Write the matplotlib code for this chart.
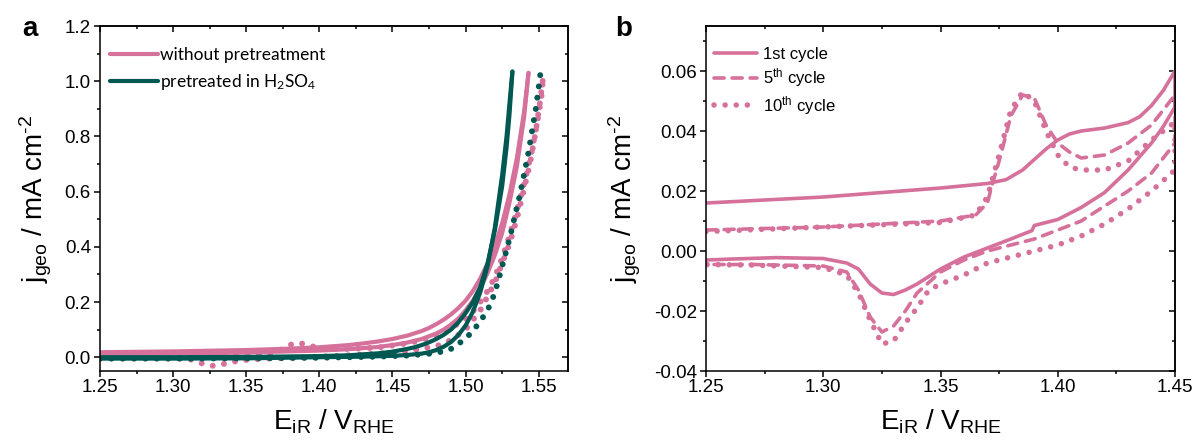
import matplotlib
matplotlib.use("Agg")
import matplotlib.pyplot as plt
from matplotlib.ticker import MultipleLocator, FormatStrFormatter

plt.rcParams['font.family'] = ['Liberation Sans', 'DejaVu Sans']
plt.rcParams['mathtext.fontset'] = 'custom'
plt.rcParams['mathtext.rm'] = 'Liberation Sans'
plt.rcParams['mathtext.it'] = 'Liberation Sans'
plt.rcParams['axes.unicode_minus'] = False

pink = '#D5719B'
teal = '#005852'

# ---- panel a : LSV, without / with pretreatment ----
a_pink_fw_x = [1.25, 1.30, 1.35, 1.38, 1.40, 1.42, 1.43, 1.44, 1.45, 1.46, 1.47, 1.475, 1.48, 1.485, 1.49,
               1.495, 1.50, 1.505, 1.51, 1.515, 1.52, 1.525, 1.53, 1.535, 1.54, 1.543]
a_pink_fw_y = [0.018, 0.021, 0.026, 0.031, 0.036, 0.044, 0.05, 0.057, 0.066, 0.078, 0.095, 0.106, 0.12, 0.136, 0.155,
               0.178, 0.205, 0.24, 0.285, 0.34, 0.405, 0.485, 0.59, 0.72, 0.89, 1.03]
a_pink_bw_x = [1.543, 1.54, 1.535, 1.53, 1.525, 1.52, 1.515, 1.51, 1.505, 1.50, 1.495, 1.49, 1.485, 1.48,
               1.47, 1.46, 1.45, 1.44, 1.42, 1.40, 1.35, 1.30, 1.25]
a_pink_bw_y = [1.03, 0.87, 0.69, 0.56, 0.45, 0.37, 0.305, 0.25, 0.205, 0.17, 0.14, 0.118, 0.1, 0.086,
               0.066, 0.053, 0.044, 0.037, 0.029, 0.024, 0.017, 0.013, 0.011]

a_pink_dot_x = [1.25, 1.30, 1.35, 1.365, 1.375, 1.38, 1.386, 1.393, 1.40, 1.42, 1.44, 1.46, 1.47, 1.48, 1.49, 1.50,
                1.505, 1.51, 1.515, 1.52, 1.525, 1.53, 1.535, 1.54, 1.545, 1.549, 1.552, 1.553,
                1.551, 1.548, 1.544, 1.54, 1.535, 1.53, 1.52, 1.51, 1.50, 1.49, 1.48, 1.46, 1.44, 1.42, 1.40, 1.38, 1.36,
                1.345, 1.34, 1.334, 1.327, 1.32, 1.315, 1.31, 1.30, 1.25]
a_pink_dot_y = [0.005, 0.006, 0.008, 0.012, 0.03, 0.045, 0.052, 0.043, 0.032, 0.03, 0.035, 0.05, 0.062, 0.08, 0.105, 0.14,
                0.165, 0.2, 0.24, 0.29, 0.36, 0.44, 0.53, 0.63, 0.74, 0.85, 0.95, 1.015,
                0.93, 0.82, 0.7, 0.61, 0.5, 0.41, 0.27, 0.17, 0.1, 0.062, 0.04, 0.022, 0.013, 0.007, 0.002, -0.002, -0.006,
                -0.012, -0.018, -0.025, -0.031, -0.023, -0.012, -0.006, -0.004, -0.004]

a_teal_fw_x = [1.25, 1.30, 1.35, 1.40, 1.42, 1.44, 1.45, 1.455, 1.46, 1.465, 1.47, 1.475, 1.48, 1.485, 1.49,
               1.495, 1.50, 1.505, 1.51, 1.515, 1.52, 1.525, 1.528, 1.53, 1.532]
a_teal_fw_y = [0.0, 0.0, 0.001, 0.004, 0.007, 0.014, 0.02, 0.025, 0.03, 0.036, 0.044, 0.054, 0.066, 0.081, 0.1,
               0.126, 0.16, 0.2, 0.255, 0.34, 0.46, 0.62, 0.76, 0.88, 1.035]
a_teal_bw_x = [1.532, 1.53, 1.528, 1.525, 1.52, 1.515, 1.51, 1.505, 1.50, 1.495, 1.49, 1.485, 1.48, 1.475,
               1.47, 1.46, 1.45, 1.43, 1.40, 1.35, 1.30, 1.25]
a_teal_bw_y = [1.035, 0.92, 0.8, 0.66, 0.47, 0.33, 0.235, 0.165, 0.115, 0.08, 0.055, 0.038, 0.026, 0.018,
               0.013, 0.008, 0.005, 0.002, 0.0, -0.004, -0.005, -0.005]

a_teal_dot_x = [1.25, 1.30, 1.35, 1.40, 1.44, 1.46, 1.476, 1.487, 1.492, 1.495, 1.50, 1.505, 1.51, 1.515,
                1.519, 1.522, 1.525, 1.528, 1.531, 1.534, 1.537, 1.540, 1.543, 1.5455, 1.548, 1.550, 1.551]
a_teal_dot_y = [-0.005, -0.005, -0.004, -0.002, 0.002, 0.006, 0.013, 0.023, 0.035, 0.048, 0.068, 0.095, 0.13, 0.17,
                0.22, 0.27, 0.33, 0.388, 0.45, 0.52, 0.585, 0.663, 0.743, 0.822, 0.9, 0.98, 1.022]

# ---- panel b : CV cycles ----
b_c1_x = [1.25, 1.30, 1.35, 1.37, 1.378, 1.385, 1.39, 1.395, 1.40, 1.405, 1.41, 1.42, 1.43, 1.435, 1.44, 1.445, 1.45,
          1.45, 1.445, 1.44, 1.43, 1.42, 1.41, 1.40, 1.39, 1.389, 1.38, 1.37, 1.36, 1.35, 1.34, 1.335, 1.33,
          1.325, 1.32, 1.315, 1.31, 1.30, 1.28, 1.26, 1.25]
b_c1_y = [0.016, 0.018, 0.021, 0.0225, 0.0238, 0.027, 0.0305, 0.034, 0.037, 0.039, 0.040, 0.041, 0.0428, 0.0448, 0.0485, 0.0535, 0.060,
          0.048, 0.0415, 0.036, 0.027, 0.0195, 0.0145, 0.0105, 0.0085, 0.0068, 0.004, 0.001, -0.002, -0.006, -0.011, -0.013, -0.0145,
          -0.014, -0.011, -0.006, -0.004, -0.0025, -0.0022, -0.0027, -0.003]

b_c5_x = [1.25, 1.30, 1.35, 1.365, 1.37, 1.372, 1.375, 1.38, 1.385, 1.39, 1.395, 1.40, 1.405, 1.41, 1.42, 1.43, 1.44, 1.45,
          1.45, 1.44, 1.43, 1.42, 1.41, 1.40, 1.39, 1.38, 1.37, 1.36, 1.35, 1.34, 1.335, 1.33,
          1.325, 1.32, 1.315, 1.31, 1.30, 1.27, 1.25]
b_c5_y = [0.007, 0.008, 0.010, 0.012, 0.016, 0.022, 0.030, 0.045, 0.052, 0.051, 0.042, 0.036, 0.033, 0.031, 0.032, 0.036, 0.042, 0.052,
          0.036, 0.026, 0.020, 0.015, 0.010, 0.007, 0.004, 0.002, 0.0, -0.003, -0.007, -0.014, -0.020, -0.025,
          -0.027, -0.022, -0.013, -0.007, -0.005, -0.0045, -0.0045]

b_c10_x = [1.25, 1.30, 1.35, 1.365, 1.37, 1.375, 1.38, 1.385, 1.39, 1.395, 1.40, 1.405, 1.41, 1.42, 1.43, 1.44, 1.45,
           1.45, 1.44, 1.43, 1.42, 1.41, 1.40, 1.39, 1.38, 1.37, 1.36, 1.35, 1.345, 1.34, 1.335, 1.33,
           1.325, 1.32, 1.315, 1.31, 1.30, 1.27, 1.25]
b_c10_y = [0.0065, 0.008, 0.0095, 0.012, 0.018, 0.032, 0.047, 0.053, 0.050, 0.040, 0.032, 0.028, 0.027, 0.027, 0.030, 0.037, 0.043,
           0.027, 0.020, 0.014, 0.009, 0.005, 0.002, 0.0, -0.002, -0.004, -0.008, -0.011, -0.013, -0.019, -0.024, -0.030,
           -0.031, -0.023, -0.014, -0.008, -0.0055, -0.0047, -0.0045]

fig = plt.figure(figsize=(11.93, 4.41), dpi=100)
ax1 = fig.add_axes([0.0838, 0.1587, 0.3923, 0.7823])
ax2 = fig.add_axes([0.5918, 0.1587, 0.3931, 0.7823])

dots_a = (0, (0.001, 1.9))
ax1.plot(a_pink_fw_x, a_pink_fw_y, color=pink, lw=3.0, solid_capstyle='round', label='without pretreatment')
ax1.plot(a_pink_bw_x, a_pink_bw_y, color=pink, lw=3.0, solid_capstyle='round')
ax1.plot(a_pink_dot_x, a_pink_dot_y, color=pink, lw=4.3, ls=dots_a, dash_capstyle='round')
ax1.plot(a_teal_fw_x, a_teal_fw_y, color=teal, lw=3.0, solid_capstyle='round', label=r'pretreated in H$_\mathregular{2}$SO$_\mathregular{4}$')
ax1.plot(a_teal_bw_x, a_teal_bw_y, color=teal, lw=3.0, solid_capstyle='round')
ax1.plot(a_teal_dot_x, a_teal_dot_y, color=teal, lw=4.3, ls=dots_a, dash_capstyle='round')

ax2.plot(b_c1_x, b_c1_y, color=pink, lw=2.6, solid_capstyle='round', label='1st cycle')
ax2.plot(b_c5_x, b_c5_y, color=pink, lw=2.6, ls=(0, (2.8, 2.2)), dash_capstyle='round',
         label=r'5$^\mathregular{th}$ cycle')
ax2.plot(b_c10_x, b_c10_y, color=pink, lw=4.0, ls=(0, (0.001, 2.0)), dash_capstyle='round',
         label=r'10$^\mathregular{th}$ cycle')


def style(ax, xmaj, xmin, ymaj, ymin):
    ax.xaxis.set_major_locator(MultipleLocator(xmaj))
    ax.xaxis.set_minor_locator(MultipleLocator(xmin))
    ax.yaxis.set_major_locator(MultipleLocator(ymaj))
    ax.yaxis.set_minor_locator(MultipleLocator(ymin))
    ax.tick_params(which='both', direction='out', width=1.1, labelsize=13.5)
    ax.tick_params(which='major', length=4)
    ax.tick_params(which='minor', length=2.3)
    ax.tick_params(axis='x', pad=2)
    ax.tick_params(axis='y', pad=2.5)
    for s in ax.spines.values():
        s.set_linewidth(1.1)
    top = ax.secondary_xaxis('top')
    right = ax.secondary_yaxis('right')
    for sec, axis in ((top, top.xaxis), (right, right.yaxis)):
        maj = xmaj if sec is top else ymaj
        mnr = xmin if sec is top else ymin
        axis.set_major_locator(MultipleLocator(maj))
        axis.set_minor_locator(MultipleLocator(mnr))
        sec.tick_params(which='both', direction='in', width=1.1, labeltop=False, labelright=False)
        sec.tick_params(which='major', length=4)
        sec.tick_params(which='minor', length=2.3)
        for s in sec.spines.values():
            s.set_linewidth(1.1)


style(ax1, 0.05, 0.025, 0.2, 0.1)
ax1.set_xlim(1.25, 1.57)
ax1.set_ylim(-0.05, 1.2)
ax1.xaxis.set_major_formatter(FormatStrFormatter('%.2f'))
ax1.yaxis.set_major_formatter(FormatStrFormatter('%.1f'))

style(ax2, 0.05, 0.025, 0.02, 0.01)
ax2.set_xlim(1.25, 1.45)
ax2.set_ylim(-0.04, 0.075)
ax2.xaxis.set_major_formatter(FormatStrFormatter('%.2f'))
ax2.yaxis.set_major_formatter(FormatStrFormatter('%.2f'))

xlab = r'E$_\mathregular{iR}$ / V$_\mathregular{RHE}$'
ylab = r'j$_\mathregular{geo}$ / mA cm$^\mathregular{\text{-}2}$'
for ax in (ax1, ax2):
    ax.set_xlabel(xlab, fontsize=20, labelpad=8)
    ax.set_ylabel(ylab, fontsize=20, labelpad=8)

leg1 = ax1.legend(loc='upper left', bbox_to_anchor=(0.021, 0.938), frameon=False,
                  prop={'family': 'Lato', 'size': 12.5}, handlelength=2.8, handletextpad=0.1,
                  labelspacing=0.5, borderpad=0, borderaxespad=0)
leg2 = ax2.legend(loc='upper left', bbox_to_anchor=(0.017, 0.94), frameon=False,
                  fontsize=12, handlelength=2.6, handletextpad=0.35,
                  labelspacing=0.28, borderpad=0, borderaxespad=0)

fig.text(0.0185, 0.935, 'a', fontsize=20, fontweight='bold', va='center', ha='left')
fig.text(0.5155, 0.935, 'b', fontsize=20, fontweight='bold', va='center', ha='left')

fig.savefig('out.png', dpi=100)
